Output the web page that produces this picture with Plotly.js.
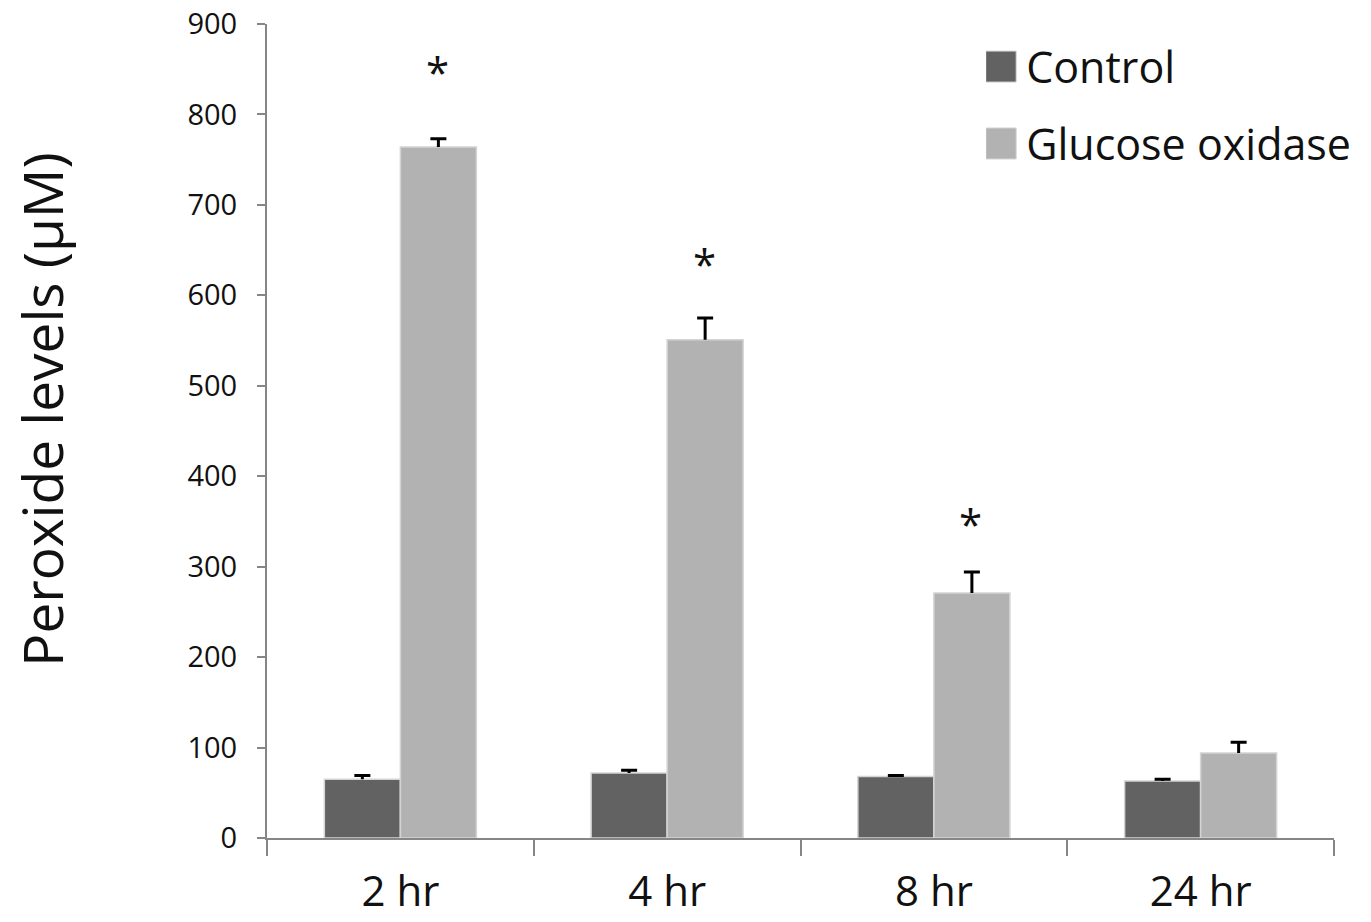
<!DOCTYPE html>
<html>
<head>
<meta charset="utf-8">
<script src="https://cdn.plot.ly/plotly-3.0.1.min.js"></script>
<style>html,body{margin:0;padding:0;background:#fff;}#chart{width:1371px;height:922px;}</style>
</head>
<body>
<div id="chart"></div>
<script>
// Data
var categories = ["2 hr", "4 hr", "8 hr", "24 hr"];
var controlValues = [65, 72, 68, 63];
var controlErrors = [4, 3, 1, 2];
var glucoseValues = [764, 551, 271, 94];
var glucoseErrors = [9, 24, 23, 12];
var significance = ["*", "*", "*", ""];
var asteriskY = [852, 640, 352, null];
var yTicks = [0, 100, 200, 300, 400, 500, 600, 700, 800, 900];

var FONT = "Open Sans, DejaVu Sans, sans-serif";
var AXIS = "#868686";

var traces = [
  {
    type: "bar", name: "Control", x: categories, y: controlValues,
    legendgroup: "a",
    marker: {color: "#626262", line: {color: "#d4d4d4", width: 1.5}},
    error_y: {type: "data", array: controlErrors, symmetric: false, arrayminus: [0,0,0,0], color: "#000", thickness: 3, width: 8}
  },
  {
    type: "bar", name: "Glucose oxidase", x: categories, y: glucoseValues,
    legendgroup: "b",
    marker: {color: "#b2b2b2", line: {color: "#d4d4d4", width: 1.5}},
    error_y: {type: "data", array: glucoseErrors, symmetric: false, arrayminus: [0,0,0,0], color: "#000", thickness: 3, width: 8}
  }
];

var annotations = [];
categories.forEach(function (c, i) {
  if (significance[i]) {
    annotations.push({
      x: c, y: asteriskY[i], xref: "x", yref: "y", xshift: 37,
      text: significance[i], showarrow: false,
      yanchor: "middle", yshift: -4,
      font: {family: FONT, size: 42, color: "#111"}
    });
  }
});
annotations.push({
  text: "Peroxide levels (µM)", xref: "paper", yref: "paper",
  x: -0.211, y: 0.526, xanchor: "center", yanchor: "middle",
  textangle: -90, showarrow: false,
  font: {family: FONT, size: 55, color: "#111"}
});

var layout = {
  width: 1371, height: 922,
  margin: {l: 267, r: 37, t: 24, b: 84},
  paper_bgcolor: "#fff", plot_bgcolor: "#fff",
  barmode: "group", bargap: 0.43, bargroupgap: 0,
  showlegend: true,
  legend: {
    x: 0.674, y: 0.99, xanchor: "left", yanchor: "top",
    traceorder: "grouped", tracegroupgap: 18,
    font: {family: FONT, size: 43, color: "#111"},
    bgcolor: "rgba(0,0,0,0)"
  },
  xaxis: {
    type: "category", tickson: "boundaries",
    showline: true, linecolor: AXIS, linewidth: 2,
    ticks: "outside", ticklen: 16, tickwidth: 2, tickcolor: AXIS,
    showgrid: false, zeroline: false,
    tickfont: {family: FONT, size: 42, color: "#111"},
    ticklabelstandoff: 16
  },
  yaxis: {
    range: [0, 900], tickvals: yTicks,
    showline: true, linecolor: AXIS, linewidth: 2,
    ticks: "outside", ticklen: 8, tickwidth: 2, tickcolor: AXIS,
    showgrid: false, zeroline: false,
    tickfont: {family: FONT, size: 29, color: "#111"},
    ticklabelstandoff: 14
  },
  annotations: annotations
};

Plotly.newPlot("chart", traces, layout, {staticPlot: true}).then(function (gd) {
  // enlarge legend swatches
  gd.querySelectorAll(".legend .legendpoints path").forEach(function (p) {
    p.setAttribute("d", "M10,15.5H-21V-15.5H10Z");
    p.style.strokeWidth = "1px";
  });
  // drop the lower cap of the one-sided error bars (T shape)
  gd.querySelectorAll(".errorbar path.yerror").forEach(function (p) {
    var d = p.getAttribute("d");
    if (d) p.setAttribute("d", d.replace(/m-[\d.]+,0h[\d.]+$/, ""));
  });
});
</script>
</body>
</html>
